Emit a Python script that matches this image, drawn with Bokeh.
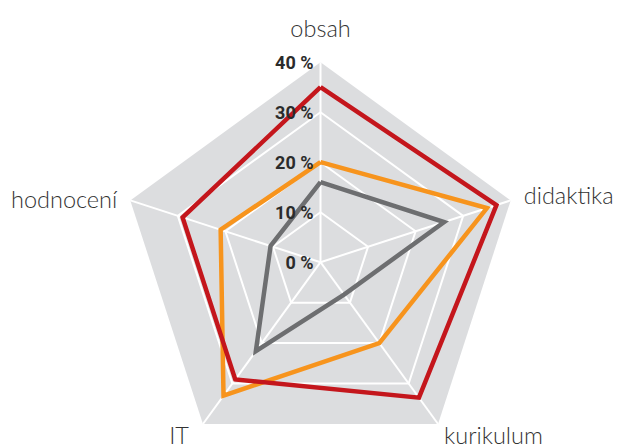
import numpy as np
from bokeh.plotting import figure
from bokeh.models import Range1d
from bokeh.core.properties import value
from bokeh.embed import file_html
from bokeh.resources import INLINE

# ---- data ----
categories = ["obsah", "didaktika", "kurikulum", "IT", "hodnocení"]
series_gray = [16, 26, 8, 22, 10.5]
series_orange = [20, 35, 20, 33, 21]
series_red = [35, 37, 33.5, 29, 29]
tick_values = [0, 10, 20, 30, 40]
tick_labels = ["0 %", "10 %", "20 %", "30 %", "40 %"]
max_value = 40

# ---- styles ----
PX = 5.0  # pixels per percent
W, H = 618, 448
cx_px, cy_px = 320, 261.7
angles = np.deg2rad(90 - 72 * np.arange(5))
label_offsets_px = [(0, -34), (13, -5), (6, 10.5), (-14, 10.5), (-13, -1.5)]
label_align = ["center", "left", "left", "right", "right"]

p = figure(width=W, height=H, output_backend="svg", toolbar_location=None,
           x_range=Range1d(-cx_px / PX, (W - cx_px) / PX),
           y_range=Range1d(-(H - cy_px) / PX, cy_px / PX),
           x_axis_location=None, y_axis_location=None,
           min_border=0, outline_line_color=None)
p.grid.visible = False
p.background_fill_color = "white"
p.border_fill_color = "white"


def poly(vals):
    v = np.asarray(vals, dtype=float)
    return list(v * np.cos(angles)), list(v * np.sin(angles))


# background pentagon
bx, by = poly([max_value] * 5)
p.patch(bx, by, fill_color="#dcdddf", line_color=None)

# rings
for t in tick_values[1:-1]:
    rx, ry = poly([t] * 5)
    p.line(rx + rx[:1], ry + ry[:1], line_color="white", line_width=2)
# spokes
for i in range(5):
    p.line([0, bx[i]], [0, by[i]], line_color="white", line_width=2)

# series
for vals, col in [(series_gray, "#6d6e70"), (series_orange, "#f7941d"), (series_red, "#c4161c")]:
    sx, sy = poly(vals)
    p.line(sx + sx[:1], sy + sy[:1], line_color=col, line_width=4.5, line_join="miter")

# tick labels
p.text(x=[-7 / PX] * len(tick_values), y=tick_values, text=tick_labels,
       text_font=value("Roboto"), text_font_style="bold", text_font_size="18px",
       text_color="#2b2b2b", text_align="right", text_baseline="middle")

# category labels
for i, name in enumerate(categories):
    dx, dy = label_offsets_px[i]
    p.text(x=[bx[i] + dx / PX], y=[by[i] - dy / PX], text=[name],
           text_font=value("Lato Light, Lato"), text_font_size="23.5px",
           text_color="#333333", text_align=label_align[i], text_baseline="alphabetic")

open("out.html", "w").write(file_html(p, INLINE))
